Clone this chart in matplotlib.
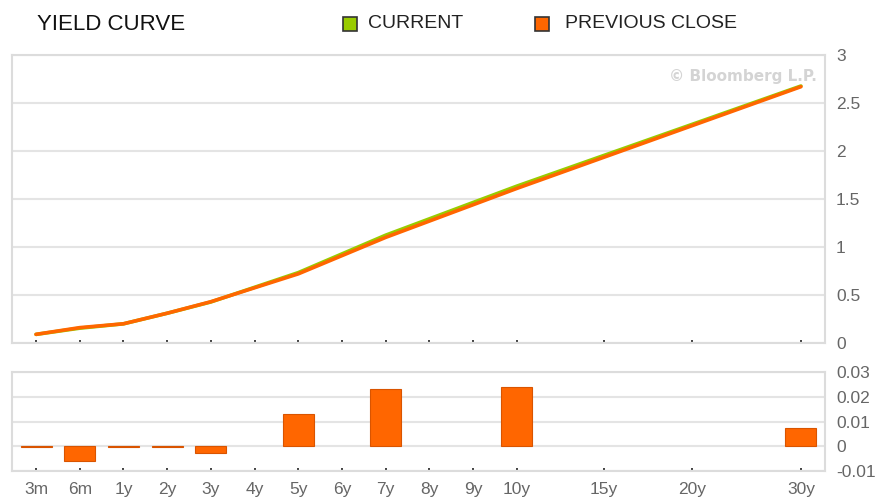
import matplotlib.pyplot as plt
from matplotlib.patches import Rectangle

plt.rcParams['font.family'] = ['Liberation Sans', 'DejaVu Sans']

### DATA
tenor_labels = ['3m', '6m', '1y', '2y', '3y', '4y', '5y', '6y', '7y', '8y', '9y', '10y', '15y', '20y', '30y']
curve_tenors = ['3m', '6m', '1y', '2y', '3y', '5y', '7y', '10y', '30y']
previous_close = [0.090, 0.160, 0.200, 0.310, 0.430, 0.720, 1.100, 1.610, 2.670]
current = [0.0895, 0.1542, 0.1995, 0.3095, 0.4272, 0.7332, 1.1232, 1.634, 2.6772]
change = [-0.0005, -0.0058, -0.0005, -0.0005, -0.0028, 0.0132, 0.0232, 0.0240, 0.0072]

top_ticks = [0, 0.5, 1, 1.5, 2, 2.5, 3]
top_ticklabels = ['0', '0.5', '1', '1.5', '2', '2.5', '3']
bot_ticks = [-0.01, 0, 0.01, 0.02, 0.03]
bot_ticklabels = ['-0.01', '0', '0.01', '0.02', '0.03']

### LAYOUT (category slots on the x axis)
slot = [0, 1, 2, 3, 4, 5, 6, 7, 8, 9, 10, 11, 13, 15, 17.5]
pos = dict(zip(tenor_labels, slot))
x_curve = [pos[t] for t in curve_tenors]

GREEN = '#99cc00'
ORANGE = '#ff6600'
GRID = '#e4e4e4'
FRAME = '#dcdcdc'
LABEL = '#666666'

fig = plt.figure(figsize=(8.81, 4.97), dpi=100)
ax1 = fig.add_axes([0.0136, 0.3099, 0.9228, 0.5794])
ax2 = fig.add_axes([0.0136, 0.0523, 0.9228, 0.1992])

# top panel: yield curve
ax1.plot(x_curve, current, color=GREEN, lw=2.6, solid_capstyle='round', zorder=3)
ax1.plot(x_curve, previous_close, color=ORANGE, lw=2.6, solid_capstyle='round', zorder=4)
ax1.set_ylim(0, 3)
ax1.set_yticks(top_ticks)
ax1.set_yticklabels(top_ticklabels)
ax1.text(0.990, 0.924, '\u00a9 Bloomberg L.P.', transform=ax1.transAxes, ha='right', va='center',
         fontsize=11, color='#d4d4d4', family='DejaVu Sans', fontweight='bold')

# bottom panel: change bars
ax2.bar(x_curve, change, width=0.71, color=ORANGE, edgecolor='#d95400', linewidth=0.8, zorder=3)
ax2.set_ylim(-0.01, 0.03)
ax2.set_yticks(bot_ticks)
ax2.set_yticklabels(bot_ticklabels)

for ax in (ax1, ax2):
    ax.set_xlim(-0.55, 18.05)
    ax.set_xticks(slot)
    ax.yaxis.tick_right()
    ax.grid(axis='y', color=GRID, lw=1.5, zorder=0)
    ax.set_axisbelow(True)
    for s in ax.spines.values():
        s.set_color(FRAME)
        s.set_linewidth(1.5)
    ax.tick_params(axis='y', length=0, pad=8, labelsize=12.5, labelcolor=LABEL)
    ax.tick_params(axis='x', direction='in', length=2.5, width=1.3, color='#333333',
                   pad=8, labelsize=12.5, labelcolor=LABEL)

ax1.set_xticklabels([])
ax2.set_xticklabels(tenor_labels)

# header: title and legend
fig.text(37 / 881, 1 - 24 / 497, 'YIELD CURVE', fontsize=16, color='#111111', va='center', ha='left')
fig.patches.append(Rectangle((343 / 881, 1 - 31 / 497), 14 / 881, 14 / 497, transform=fig.transFigure,
                             facecolor=GREEN, edgecolor='#333333', lw=1.2))
fig.text(368 / 881, 1 - 24 / 497, 'CURRENT', fontsize=14, color='#222222', va='center', ha='left')
fig.patches.append(Rectangle((535 / 881, 1 - 31 / 497), 14 / 881, 14 / 497, transform=fig.transFigure,
                             facecolor=ORANGE, edgecolor='#333333', lw=1.2))
fig.text(565 / 881, 1 - 24 / 497, 'PREVIOUS CLOSE', fontsize=14, color='#222222', va='center', ha='left')

fig.savefig('out.png', dpi=100)
